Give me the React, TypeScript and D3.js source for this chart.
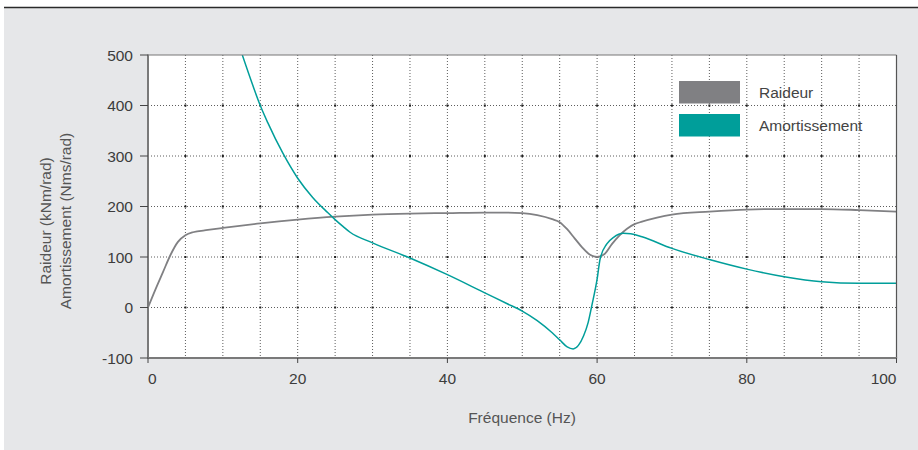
import * as d3 from 'd3';
import React from 'react';

// frequency (Hz) / stiffness (kNm/rad)
const raideurFreq = [0, 1, 2, 3, 4, 5, 6, 8, 10, 15, 20, 25, 30, 35, 40, 45, 48, 50, 52, 54, 55, 56, 57, 58, 59, 60, 61, 62, 63, 64, 65, 66, 68, 70, 75, 80, 85, 90, 95, 100];
const raideurVal = [0, 36, 70, 104, 130, 143, 149, 153.5, 157.5, 166.5, 174, 180, 184, 186, 187, 188, 188, 187, 183, 175, 169, 155, 137, 119, 105, 100, 106, 126, 143, 156, 165, 170, 178, 184, 190, 194, 195, 195, 193, 190];

// frequency (Hz) / damping (Nms/rad)
const amortFreq = [12.6, 14, 15, 16, 18, 20, 22, 24, 25, 26, 27, 30, 35, 40, 45, 48, 50, 52, 54, 55, 56, 56.8, 57.5, 58.2, 58.8, 59.3, 60, 60.4, 61.3, 62.2, 63.5, 64.5, 66, 70, 75, 80, 85, 90, 95, 100];
const amortVal = [500, 440, 400, 366, 306, 256, 218, 188, 174, 161, 149, 128, 98, 65, 29, 7.5, -7, -26, -50, -64, -78, -82, -75, -56, -30, 4, 56, 96, 126, 139, 147, 146, 140, 117, 95, 76, 61, 51, 48, 48];

const xTicks = [0, 20, 40, 60, 80, 100];
const yTicks = [-100, 0, 100, 200, 300, 400, 500];
const xGrid = d3.range(0, 101, 5);

const seriesNames = ['Raideur', 'Amortissement'];
const seriesColors = ['#808083', '#009e9a'];

const W = 918;
const H = 450;
const font = '"Liberation Sans", Arial, sans-serif';

export default function App() {
  // plot area
  const left = 148;
  const right = 896.5;
  const top = 55;
  const bottom = 358;

  const x = d3.scaleLinear().domain([0, 100]).range([left, right]);
  const y = d3.scaleLinear().domain([-100, 500]).range([bottom, top]);

  const line = d3
    .line<[number, number]>()
    .x(d => x(d[0]))
    .y(d => y(d[1]))
    .curve(d3.curveMonotoneX);

  const raideur = raideurFreq.map((f, i) => [f, raideurVal[i]] as [number, number]);
  const amort = amortFreq.map((f, i) => [f, amortVal[i]] as [number, number]);

  const yMid = 221;

  return (
    <svg width={W} height={H} style={{ position: 'absolute', left: 0, top: 0 }} fontFamily={font}>
      <rect x={0} y={0} width={W} height={H} fill="#fff" />
      {/* grey panel */}
      <rect x={4} y={8} width={W - 4} height={H - 8} fill="#e6e7e9" />
      <line x1={4} x2={W} y1={7.5} y2={7.5} stroke="#2a2a2a" strokeWidth={1.3} />

      <rect x={left} y={top} width={right - left} height={bottom - top} fill="#fff" />

      <defs>
        <clipPath id="plot">
          <rect x={left} y={top} width={right - left} height={bottom - top} />
        </clipPath>
      </defs>

      {/* grid */}
      {xGrid.filter(v => v > 0 && v < 100).map(v => (
        <line key={'gx' + v} x1={x(v)} x2={x(v)} y1={top} y2={bottom} stroke="#333" strokeWidth={0.8} strokeDasharray="1,2" />
      ))}
      {yTicks.filter(v => v > -100 && v < 500).map(v => (
        <line key={'gy' + v} x1={left} x2={right} y1={y(v)} y2={y(v)} stroke="#333" strokeWidth={0.8} strokeDasharray="1,2" />
      ))}
      {xGrid.filter(v => v > 0 && v < 100).map(v =>
        yTicks.filter(t => t > -100 && t < 500).map(t => (
          <rect key={'d' + v + '_' + t} x={x(v) - 1} y={y(t) - 1} width={2} height={2} fill="#222" />
        ))
      )}

      {/* curves */}
      <g clipPath="url(#plot)" fill="none">
        <path d={line(raideur) || ''} stroke={seriesColors[0]} strokeWidth={1.8} />
        <path d={line(amort) || ''} stroke={seriesColors[1]} strokeWidth={1.5} />
      </g>

      {/* frame */}
      <line x1={left} x2={right} y1={top} y2={top} stroke="#777" strokeWidth={1.2} />
      <line x1={right} x2={right} y1={top} y2={bottom} stroke="#555" strokeWidth={1.2} />
      <line x1={left} x2={left} y1={top - 0.5} y2={bottom + 0.5} stroke="#7a7a7a" strokeWidth={2} />
      <line x1={left} x2={right + 0.6} y1={bottom} y2={bottom} stroke="#7a7a7a" strokeWidth={2} />

      {/* y axis */}
      {yTicks.map(v => (
        <g key={'yt' + v}>
          <line x1={140} x2={left} y1={y(v)} y2={y(v)} stroke="#444" strokeWidth={1} />
          <text x={133} y={y(v)} dy="0.36em" textAnchor="end" fontSize={15.5} fill="#3c3c3c">{v}</text>
        </g>
      ))}

      {/* x axis */}
      {xTicks.map((v, i) => (
        <g key={'xt' + v}>
          <line x1={x(v)} x2={x(v)} y1={bottom} y2={bottom + 5} stroke="#444" strokeWidth={1} />
          <text
            x={x(v)}
            y={384}
            textAnchor={i === 0 ? 'start' : i === xTicks.length - 1 ? 'end' : 'middle'}
            fontSize={15.5}
            fill="#3c3c3c"
          >
            {v}
          </text>
        </g>
      ))}

      <text x={522} y={423} textAnchor="middle" fontSize={15.5} fill="#555">Fréquence (Hz)</text>
      <text transform={`translate(51,${yMid}) rotate(-90)`} textAnchor="middle" fontSize={15.5} fill="#555">Raideur (kNm/rad)</text>
      <text transform={`translate(71,${yMid}) rotate(-90)`} textAnchor="middle" fontSize={15.5} fill="#555">Amortissement (Nms/rad)</text>

      {/* legend */}
      {seriesNames.map((n, i) => (
        <g key={n} transform={`translate(679,${81 + i * 33})`}>
          <rect x={0} y={0} width={61} height={22.5} fill={seriesColors[i]} />
          <text x={80} y={11} dy="0.36em" fontSize={15.5} fill="#444">{n}</text>
        </g>
      ))}
    </svg>
  );
}
